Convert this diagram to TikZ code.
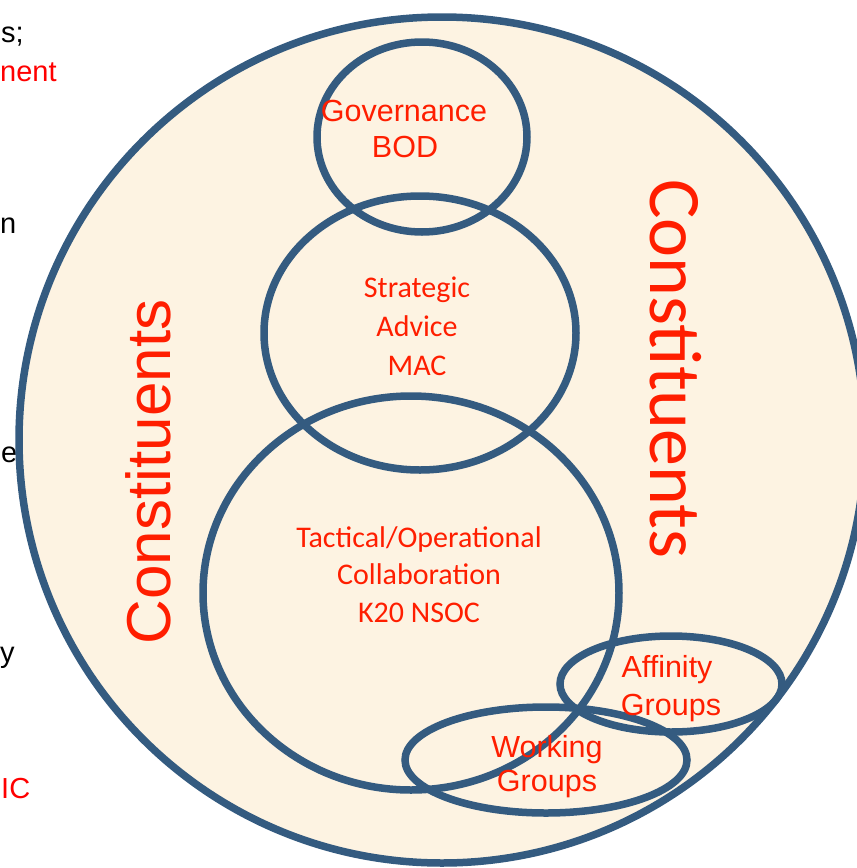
\documentclass[tikz,border=0pt]{standalone}
\usepackage{fontspec}
\setmainfont{Liberation Sans}
\newfontfamily\calfont{Carlito}
\definecolor{ringblue}{RGB}{52,91,128}
\definecolor{cream}{RGB}{253,243,226}
\definecolor{lblred}{RGB}{255,30,0}
\definecolor{fragred}{RGB}{255,0,0}
\begin{document}
\begin{tikzpicture}[x=1pt,y=-1pt,
  ring/.style={draw=ringblue,line width=7.5pt},
  arialtxt/.style={font=\fontsize{30.5}{36}\selectfont,text=lblred,inner sep=0pt,anchor=base},
  caltxt/.style={font=\calfont\fontsize{30}{36}\selectfont,text=lblred,inner sep=0pt,anchor=base},
  frag/.style={font=\fontsize{29}{34}\selectfont,inner sep=0pt,anchor=base west},
]
\useasboundingbox[fill=white] (0,0) rectangle (857,868);
% fragments of the slide text at the left edge
\node[frag,text=black]   (f1) at (1,42)  {s;};
\node[frag,text=fragred] (f2) at (0,81)  {nent};
\node[frag,text=black]   (f3) at (0,233) {n};
\node[frag,text=black]   (f4) at (1,462) {eg};
\node[frag,text=black]   (f5) at (0,662) {y};
\node[frag,text=fragred] (f6) at (1,798) {IC};
% big circle
\draw[ring,fill=cream] (442,440) circle [radius=423pt];
% inner circles
\draw[ring] (422,137) ellipse [x radius=105pt,y radius=95pt];
\draw[ring] (420,333) ellipse [x radius=156pt,y radius=137pt];
\draw[ring] (411,593) ellipse [x radius=208pt,y radius=197pt];
\draw[ring] (671,684) ellipse [x radius=111pt,y radius=48pt];
\draw[ring] (546,760) ellipse [x radius=141pt,y radius=53pt];
% labels
\node[arialtxt] (gov1) at (404,121) {Governance};
\node[arialtxt] (gov2) at (405,157) {BOD};
\node[caltxt] (str1) at (417,297) {Strategic};
\node[caltxt] (str2) at (417,336) {Advice};
\node[caltxt] (str3) at (417,375) {MAC};
\node[caltxt] (tac1) at (419,547) {Tactical/Operational};
\node[caltxt] (tac2) at (419,584) {Collaboration};
\node[caltxt] (tac3) at (419,622) {K20 NSOC};
\node[arialtxt] (aff1) at (667,677) {Affinity};
\node[arialtxt] (aff2) at (671,715) {Groups};
\node[arialtxt] (wrk1) at (547,757) {Working};
\node[arialtxt] (wrk2) at (547,791) {Groups};
\node[font=\fontsize{62}{70}\selectfont,text=lblred,inner sep=0pt,rotate=90,anchor=base] (cl) at (170,472) {Constituents};
\node[font=\calfont\fontsize{74}{80}\selectfont,text=lblred,inner sep=0pt,rotate=-90,anchor=base] (cr) at (650,369) {Constituents};
\end{tikzpicture}
\end{document}
